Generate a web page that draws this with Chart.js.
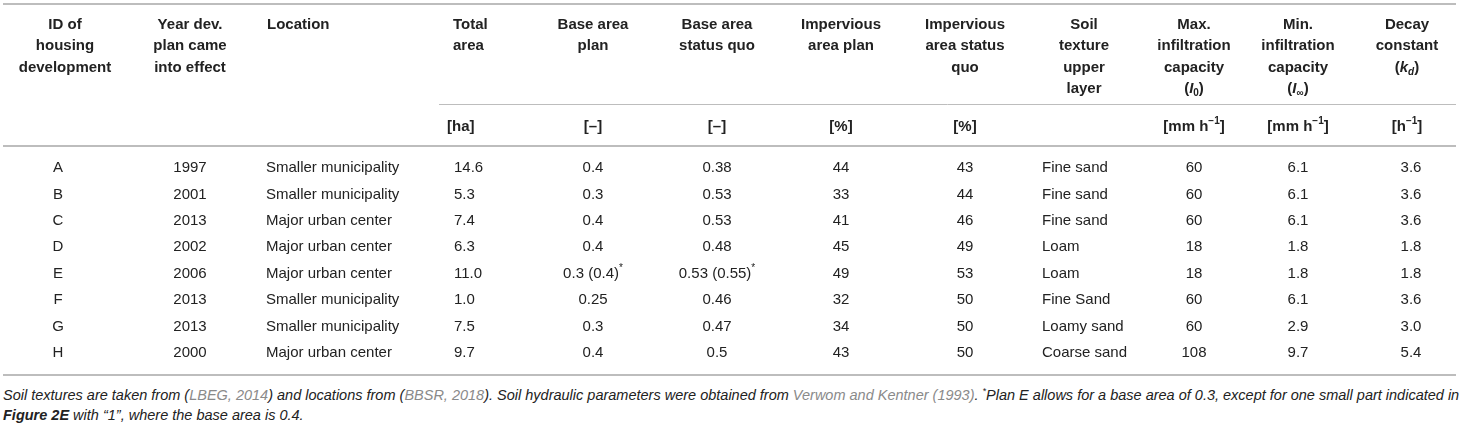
<!DOCTYPE html>
<html>
<head>
<meta charset="utf-8">
<script src="https://cdn.jsdelivr.net/npm/chart.js@4.4.0/dist/chart.umd.min.js"></script>
<style>
  html, body { margin: 0; padding: 0; background: #fff; }
  #wrap { position: relative; width: 1459px; height: 380px; }
  #note { position: absolute; top: 385px; left: 3px; width: 1456px; font: italic 14.5px "Liberation Sans", Arial, sans-serif; line-height: 20px; color: #222; white-space: nowrap; }
  #note .ref { color: #8a8a8a; }
  #note sup { font-size: 9px; vertical-align: 6px; line-height: 0; }
</style>
</head>
<body>
<div id="wrap"><canvas id="c"></canvas></div>
<div id="note">Soil textures are taken from (<span class="ref">LBEG, 2014</span>) and locations from (<span class="ref">BBSR, 2018</span>). Soil hydraulic parameters were obtained from <span class="ref">Verwom and Kentner (1993)</span>. <sup>*</sup>Plan E allows for a base area of 0.3, except for one small part indicated in<br><b>Figure 2E</b> with “1”, where the base area is 0.4.</div>
<script>
// ---- data ----
const ids = ['A', 'B', 'C', 'D', 'E', 'F', 'G', 'H'];
const years = ['1997', '2001', '2013', '2002', '2006', '2013', '2013', '2000'];
const locations = ['Smaller municipality', 'Smaller municipality', 'Major urban center', 'Major urban center', 'Major urban center', 'Smaller municipality', 'Smaller municipality', 'Major urban center'];
const totalArea = ['14.6', '5.3', '7.4', '6.3', '11.0', '1.0', '7.5', '9.7'];
const baseAreaPlan = ['0.4', '0.3', '0.4', '0.4', '0.3 (0.4)^{*}', '0.25', '0.3', '0.4'];
const baseAreaStatusQuo = ['0.38', '0.53', '0.53', '0.48', '0.53 (0.55)^{*}', '0.46', '0.47', '0.5'];
const imperviousPlan = ['44', '33', '41', '45', '49', '32', '34', '43'];
const imperviousStatusQuo = ['43', '44', '46', '49', '53', '50', '50', '50'];
const soilTexture = ['Fine sand', 'Fine sand', 'Fine sand', 'Loam', 'Loam', 'Fine Sand', 'Loamy sand', 'Coarse sand'];
const maxInfiltration = ['60', '60', '60', '18', '18', '60', '60', '108'];
const minInfiltration = ['6.1', '6.1', '6.1', '1.8', '1.8', '6.1', '2.9', '9.7'];
const decayConstant = ['3.6', '3.6', '3.6', '1.8', '1.8', '3.6', '3.0', '5.4'];

const headers = [
  ['ID of', 'housing', 'development'],
  ['Year dev.', 'plan came', 'into effect'],
  ['Location'],
  ['Total', 'area'],
  ['Base area', 'plan'],
  ['Base area', 'status quo'],
  ['Impervious', 'area plan'],
  ['Impervious', 'area status', 'quo'],
  ['Soil', 'texture', 'upper', 'layer'],
  ['Max.', 'infiltration', 'capacity', '({i:I}_{0})'],
  ['Min.', 'infiltration', 'capacity', '({i:I}_{∞})'],
  ['Decay', 'constant', '({i:k}_{i:d})']
];
const units = ['', '', '', '[ha]', '[–]', '[–]', '[%]', '[%]', '', '[mm h^{−1}]', '[mm h^{−1}]', '[h^{−1}]'];
const columns = [ids, years, locations, totalArea, baseAreaPlan, baseAreaStatusQuo, imperviousPlan, imperviousStatusQuo, soilTexture, maxInfiltration, minInfiltration, decayConstant];

// ---- layout (positions on the x scale, alignments) ----
const colLayout = [
  { hx: 65, ha: 'center', dx: 58, da: 'center' },
  { hx: 190, ha: 'center', dx: 190, da: 'center' },
  { hx: 267, ha: 'left', dx: 266, da: 'left' },
  { hx: 453, ha: 'left', dx: 454, da: 'left', ux: 447, ua: 'left' },
  { hx: 593, ha: 'center', dx: 593, da: 'center' },
  { hx: 717, ha: 'center', dx: 717, da: 'center' },
  { hx: 841, ha: 'center', dx: 841, da: 'center' },
  { hx: 965, ha: 'center', dx: 965, da: 'center' },
  { hx: 1084, ha: 'center', dx: 1042, da: 'left' },
  { hx: 1194, ha: 'center', dx: 1194, da: 'center' },
  { hx: 1298, ha: 'center', dx: 1298, da: 'center' },
  { hx: 1407, ha: 'center', dx: 1411, da: 'center' }
];
const headerLineOffsets = [-130.5, -109, -87.5, -66];
const unitsOffset = -28.5;
const FONT = '"Liberation Sans", Arial, Helvetica, sans-serif';
const TEXT = '#222';
const RULE = '#bdbdbd';

function parseRich(s) {
  const out = [];
  const re = /(\{i:([^}]*)\})|(_\{(i:)?([^}]*)\})|(\^\{([^}]*)\})/g;
  let last = 0, m;
  while ((m = re.exec(s))) {
    if (m.index > last) out.push({ t: s.slice(last, m.index) });
    if (m[1]) out.push({ t: m[2], it: true });
    else if (m[3]) out.push({ t: m[5], sub: true, it: !!m[4] });
    else out.push({ t: m[7], sup: true });
    last = re.lastIndex;
  }
  if (last < s.length) out.push({ t: s.slice(last) });
  return out;
}
function drawRich(ctx, s, x, y, align, bold, size) {
  const segs = parseRich(s);
  const fontFor = g => (g.it ? 'italic ' : '') + (bold ? 'bold ' : '') + ((g.sub || g.sup) ? Math.round(size * 0.68) : size) + 'px ' + FONT;
  let w = 0;
  segs.forEach(g => { ctx.font = fontFor(g); g.w = ctx.measureText(g.t).width; w += g.w; });
  let cx = align === 'center' ? x - w / 2 : (align === 'right' ? x - w : x);
  ctx.textAlign = 'left';
  ctx.textBaseline = 'middle';
  segs.forEach(g => {
    ctx.font = fontFor(g);
    const dy = g.sub ? size * 0.3 : (g.sup ? -size * 0.33 : 0);
    ctx.fillText(g.t, cx, y + dy);
    cx += g.w;
  });
}

const tablePlugin = {
  id: 'tableText',
  afterDatasetsDraw(chart) {
    const ctx = chart.ctx;
    const xs = chart.scales.x;
    const area = chart.chartArea;
    ctx.save();
    ctx.fillStyle = TEXT;
    // header and units
    colLayout.forEach((L, c) => {
      const hx = xs.getPixelForValue(L.hx);
      headers[c].forEach((line, k) => drawRich(ctx, line, hx, area.top + headerLineOffsets[k], L.ha, true, 15));
      if (units[c]) {
        const ux = xs.getPixelForValue(L.ux !== undefined ? L.ux : L.hx);
        drawRich(ctx, units[c], ux, area.top + unitsOffset, L.ua || L.ha, true, 15);
      }
    });
    // cells
    chart.data.datasets.forEach((ds, c) => {
      const meta = chart.getDatasetMeta(c);
      meta.data.forEach((pt, i) => {
        drawRich(ctx, String(columns[c][i]), pt.x, pt.y, colLayout[c].da, false, 15);
      });
    });
    // rules
    ctx.strokeStyle = RULE;
    const rule = (y, x0, x1, w) => {
      ctx.lineWidth = w;
      ctx.beginPath();
      ctx.moveTo(xs.getPixelForValue(x0), y);
      ctx.lineTo(xs.getPixelForValue(x1), y);
      ctx.stroke();
    };
    rule(area.top - 151, 3, 1456, 2);
    rule(area.top - 50.5, 439, 1456, 1);
    rule(area.top - 9, 3, 1456, 2);
    rule(area.bottom + 9, 3, 1456, 2);
    ctx.restore();
  }
};

const datasets = columns.map((col, c) => ({
  label: 'col' + c,
  data: ids.map(id => ({ x: colLayout[c].dx, y: id })),
  pointRadius: 0,
  pointHoverRadius: 0,
  showLine: false
}));

new Chart(document.getElementById('c'), {
  type: 'scatter',
  data: { datasets },
  options: {
    responsive: true,
    maintainAspectRatio: false,
    animation: false,
    events: [],
    layout: { padding: { top: 155, bottom: 14, left: 0, right: 0 } },
    scales: {
      x: { type: 'linear', min: 0, max: 1459, display: false },
      y: { type: 'category', labels: ids, offset: true, display: false }
    },
    plugins: { legend: { display: false }, tooltip: { enabled: false }, title: { display: false } }
  },
  plugins: [tablePlugin]
});
</script>
</body>
</html>
